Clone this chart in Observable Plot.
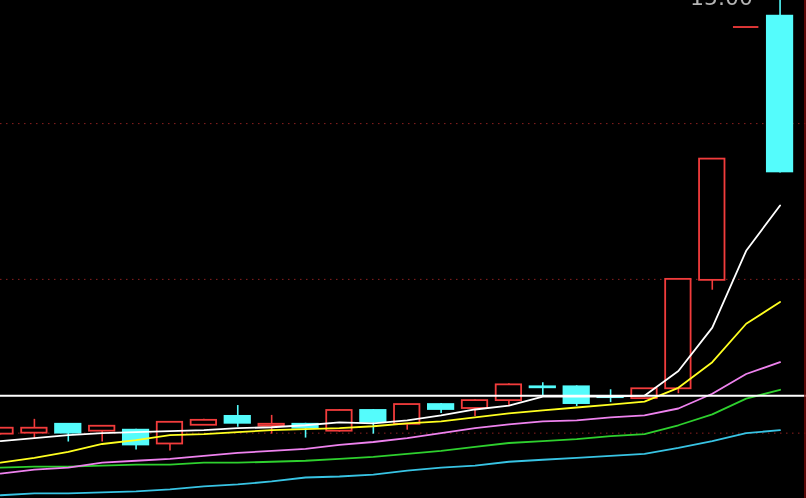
<!DOCTYPE html>
<html>
<head>
<meta charset="utf-8">
<script src="https://cdn.jsdelivr.net/npm/d3@7"></script>
<script src="https://cdn.jsdelivr.net/npm/@observablehq/plot@0.6"></script>
<style>
  html, body { margin: 0; padding: 0; background: #000; overflow: hidden; }
  #chart svg { display: block; background: #000; }
</style>
</head>
<body>
<div id="chart"></div>
<script>
// Trading days (index of each candle in view)
const days  = [0,1,2,3,4,5,6,7,8,9,10,11,12,13,14,15,16,17,18,19,20,21,22,23];
const open  = [10.59,10.60,10.69,10.62,10.63,10.49,10.68,10.77,10.67,10.69,10.62,10.83,10.69,10.89,10.85,10.93,11.07,11.07,10.97,10.95,11.05,12.15,14.72,14.83];
const high  = [10.65,10.74,10.69,10.67,10.64,10.71,10.74,10.88,10.78,10.70,10.84,10.84,10.89,10.90,10.94,11.10,11.11,11.08,11.04,11.05,12.16,13.38,14.72,15.00];
const low   = [10.58,10.54,10.51,10.51,10.43,10.42,10.68,10.66,10.59,10.55,10.61,10.59,10.63,10.80,10.77,10.87,10.98,10.87,10.91,10.95,11.00,12.05,14.72,13.24];
const close = [10.65,10.65,10.60,10.67,10.48,10.71,10.73,10.70,10.69,10.65,10.83,10.71,10.89,10.84,10.93,11.09,11.06,10.90,10.96,11.05,12.16,13.38,14.72,13.25];

// Moving averages
const ma5  = [10.52,10.55,10.58,10.60,10.61,10.62,10.63,10.65,10.66,10.68,10.71,10.70,10.73,10.78,10.84,10.88,10.97,10.97,10.97,10.98,11.23,11.67,12.45,12.91];
const ma10 = [10.30,10.35,10.41,10.49,10.53,10.58,10.59,10.61,10.63,10.64,10.65,10.67,10.70,10.72,10.76,10.80,10.83,10.86,10.89,10.92,11.06,11.32,11.71,11.93];
const ma20 = [10.19,10.23,10.25,10.30,10.32,10.34,10.37,10.40,10.42,10.44,10.48,10.51,10.55,10.60,10.65,10.69,10.72,10.73,10.76,10.78,10.85,11.00,11.20,11.32];
const ma30 = [10.25,10.26,10.26,10.27,10.28,10.28,10.30,10.30,10.31,10.32,10.34,10.36,10.39,10.42,10.46,10.50,10.52,10.54,10.57,10.59,10.68,10.79,10.95,11.04];
const ma60 = [9.97,9.99,9.99,10.00,10.01,10.03,10.06,10.08,10.11,10.15,10.16,10.18,10.22,10.25,10.27,10.31,10.33,10.35,10.37,10.39,10.45,10.52,10.60,10.63];

const gridLevels = [10.60, 12.16, 13.74];
const refLine = [10.98];
const highLabel = "15.00";

const xDomain = [0.0, 23.78];
const yDomain = [9.937, 14.989];

const RED = "#f23c3c", CYAN = "#54fcfc";
const HW = 0.375;

const candles = days.map((d, i) => ({i: d, o: open[i], h: high[i], l: low[i], c: close[i]}));
const up   = candles.filter(d => d.c > d.o);
const down = candles.filter(d => d.c < d.o);
const flat = candles.filter(d => d.c === d.o);

const C = {clip: true};
const maLine = (arr, color) => Plot.line(days, {x: d => d, y: (d, i) => arr[i], stroke: color, strokeWidth: 1.8, ...C});

const chart = Plot.plot({
  width: 806,
  height: 498,
  margin: 0,
  style: {background: "#000", fontFamily: "'DejaVu Sans', Verdana, sans-serif"},
  x: {type: "linear", domain: xDomain, range: [0, 806], axis: null},
  y: {type: "linear", domain: yDomain, range: [498, 0], axis: null},
  marks: [
    Plot.ruleY(gridLevels, {stroke: "#8c2020", strokeDasharray: "1.5,4.5", strokeWidth: 1, ...C}),
    // wicks
    Plot.ruleX(up,   {x: "i", y1: "c", y2: "h", stroke: RED, strokeWidth: 1.6, ...C}),
    Plot.ruleX(up,   {x: "i", y1: "l", y2: "o", stroke: RED, strokeWidth: 1.6, ...C}),
    Plot.ruleX(down, {x: "i", y1: "l", y2: "h", stroke: CYAN, strokeWidth: 1.6, ...C}),
    // bodies
    Plot.rect(up,   {x1: d => d.i - HW, x2: d => d.i + HW, y1: "o", y2: "c", fill: "#000", stroke: RED, strokeWidth: 1.8, ...C}),
    Plot.rect(down, {x1: d => d.i - HW, x2: d => d.i + HW, y1: "o", y2: "c", fill: CYAN, stroke: CYAN, strokeWidth: 1.8, ...C}),
    Plot.ruleY(flat, {y: "c", x1: d => d.i - HW, x2: d => d.i + HW, stroke: RED, strokeWidth: 1.8, ...C}),
    // moving averages
    maLine(ma60, "#38c4e4"),
    maLine(ma30, "#2ed02e"),
    maLine(ma20, "#ee82ee"),
    maLine(ma10, "#ffff20"),
    maLine(ma5,  "#ffffff"),
    // reference line (XOR-like)
    Plot.ruleY(refLine, {stroke: "#ffffff", strokeWidth: 2, mixBlendMode: "difference", ...C}),
    // right frame line
    Plot.ruleX([xDomain[1]], {stroke: "#7a0a0a", strokeWidth: 1.5, dx: -1.5}),
    // high label
    Plot.text([candles[23]], {x: "i", y: "h", text: () => highLabel, textAnchor: "end", dx: -27, dy: -1, fontSize: 22, fill: "#b4b4b4"})
  ]
});
document.getElementById("chart").appendChild(chart);
</script>
</body>
</html>
